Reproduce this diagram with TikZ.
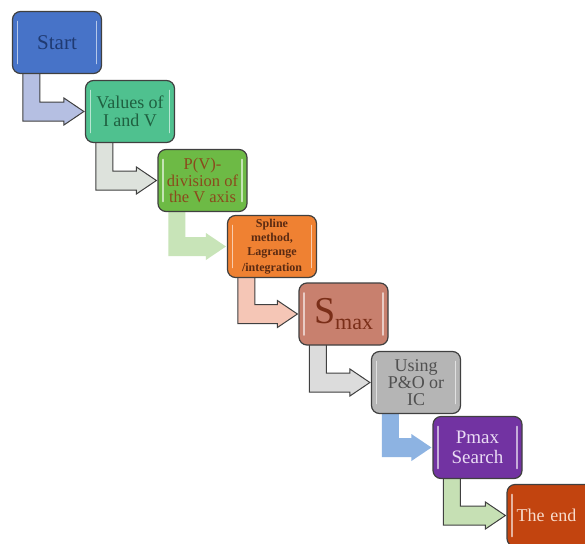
\documentclass[tikz,border=0pt]{standalone}
\usepackage{fontspec}
\setmainfont{Liberation Serif}
\usetikzlibrary{calc,backgrounds}
\definecolor{cStart}{HTML}{4773C8}
\definecolor{tStart}{HTML}{1F3A72}
\definecolor{cVal}{HTML}{4FC18F}
\definecolor{tVal}{HTML}{1F6040}
\definecolor{cPV}{HTML}{6DBA45}
\definecolor{tPV}{HTML}{8A4A1C}
\definecolor{cSpl}{HTML}{EF8132}
\definecolor{tSpl}{HTML}{5A2A12}
\definecolor{cSmx}{HTML}{C8806E}
\definecolor{tSmx}{HTML}{7A2E18}
\definecolor{cUse}{HTML}{B5B5B5}
\definecolor{tUse}{HTML}{505050}
\definecolor{cPmx}{HTML}{7233A2}
\definecolor{tPmx}{HTML}{EADCF4}
\definecolor{cEnd}{HTML}{C2440F}
\definecolor{tEnd}{HTML}{F8DCCC}
\definecolor{a1}{HTML}{B5BFE2}
\definecolor{a2}{HTML}{DDE2DC}
\definecolor{a3}{HTML}{C8E4B8}
\definecolor{a4}{HTML}{F5C6B6}
\definecolor{a5}{HTML}{DCDCDC}
\definecolor{a6}{HTML}{8DB3E2}
\definecolor{a7}{HTML}{C6E0B4}
\newcommand\bentarrow[3]{%
  \coordinate (tip) at ($(#3.west)+(-1,0)$);
  \coordinate (sl) at ($(#2.south west)+(11,-4)$);
  \coordinate (sr) at ($(#2.south west)+(28,-4)$);
  \coordinate (bb) at ($(tip)+(-20,9.5)$);
  \coordinate (bt) at ($(tip)+(-20,-9.5)$);
  \coordinate (hb) at ($(tip)+(-20,13.5)$);
  \coordinate (ht) at ($(tip)+(-20,-13.5)$);
  \path[#1] (sl) -- (sl |- bb) -- (bb) -- (hb) -- (tip) -- (ht) -- (bt) -- (sr |- bt) -- (sr) -- cycle;
}
\begin{document}
\begin{tikzpicture}[x=1pt,y=-1pt,
  box/.style={draw=black!75, line width=1.2pt, rounded corners=8pt,
    minimum width=89pt, minimum height=62pt, align=center, inner sep=2pt,
    font=\fontsize{18}{18}\selectfont,
    path picture={
      \draw[white, opacity=.6, line width=1.6pt, line cap=round]
        ([xshift=5pt,yshift=-10pt]path picture bounding box.north west) --
        ([xshift=5pt,yshift=10pt]path picture bounding box.south west);
      \draw[white, opacity=.6, line width=1.6pt, line cap=round]
        ([xshift=-5pt,yshift=-10pt]path picture bounding box.north east) --
        ([xshift=-5pt,yshift=10pt]path picture bounding box.south east);
    }},
  arr/.style={draw=black!75, line width=1pt, line join=miter, fill=#1},
  arrflat/.style={draw=none, fill=#1}]
\useasboundingbox (0,0) rectangle (585,543);

\node[box, fill=cStart, text=tStart, font=\fontsize{21}{22}\selectfont] (start) at (57,42.5) {Start};
\node[box, fill=cVal, text=tVal] (vals) at (130,111.5) {Values of\\I and V};
\node[box, fill=cPV, text=tPV, font=\fontsize{16.5}{16.5}\selectfont] (pv) at (202.5,180.5) {P(V)-\\division of\\the V axis};
\node[box, fill=cSpl, text=tSpl, font=\fontsize{12}{14}\selectfont\bfseries] (spl) at (272,246.5) {Spline\\method,\\Lagrange\\[2pt]/integration};
\node[box, fill=cSmx, text=tSmx] (smax) at (343.5,314) {{\fontsize{38}{38}\selectfont S}{\fontsize{22}{22}\selectfont\raisebox{-6pt}{max}}};
\node[box, fill=cUse, text=tUse, font=\fontsize{18}{17}\selectfont] (use) at (416,382.5) {Using\\P\&O or\\IC};
\node[box, fill=cPmx, text=tPmx, font=\fontsize{19}{20}\selectfont] (pmax) at (477.5,447.5) {Pmax\\Search};
\node[box, fill=cEnd, text=tEnd, text width=80pt, align=left] (end) at (551.5,515.5) {\hspace*{5pt}The end};

\begin{pgfonlayer}{background}
\fill[white] (0,0) rectangle (585,543);
\bentarrow{arr=a1}{start}{vals}
\bentarrow{arr=a2}{vals}{pv}
\bentarrow{arrflat=a3}{pv}{spl}
\bentarrow{arr=a4}{spl}{smax}
\bentarrow{arr=a5}{smax}{use}
\bentarrow{arrflat=a6}{use}{pmax}
\bentarrow{arr=a7}{pmax}{end}
\end{pgfonlayer}
\end{tikzpicture}
\end{document}
